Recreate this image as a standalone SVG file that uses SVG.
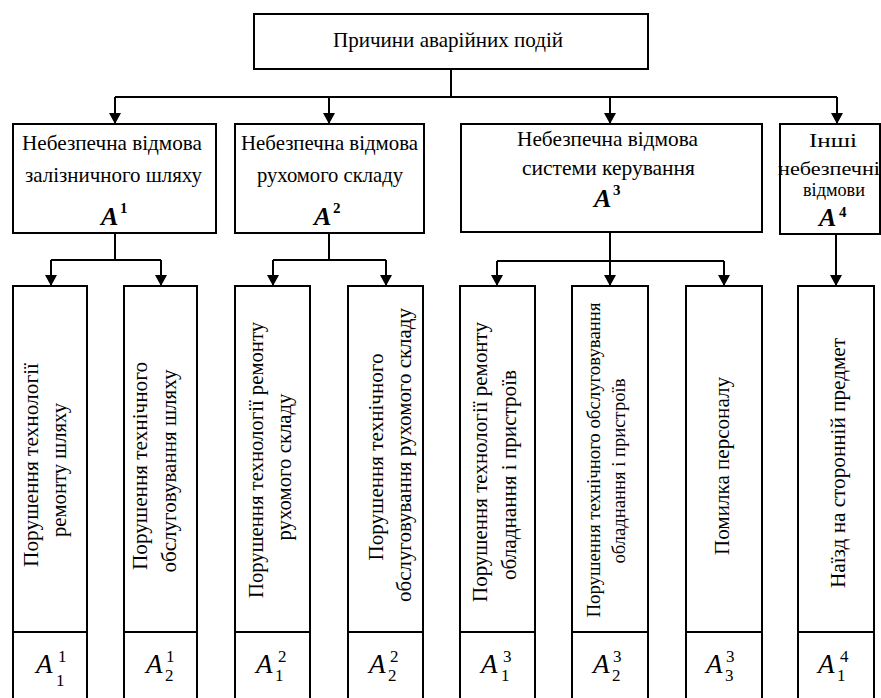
<svg xmlns="http://www.w3.org/2000/svg" width="881" height="698" viewBox="0 0 881 698">
<defs>
<style>
.box{fill:#fff;stroke:#000;stroke-width:2}
.c{fill:none;stroke:#000;stroke-width:2}
.t{font-size:21px}
.s{font-size:18.5px}
.k{font-size:18px}
.m{font-style:italic;font-weight:bold;font-size:26px}
.mi{font-style:italic;font-size:27px}
.d{font-size:17px}
.db{font-weight:bold;font-size:15px}
</style>
<marker id="ar" markerUnits="userSpaceOnUse" markerWidth="12" markerHeight="12" refX="11" refY="6" orient="auto">
<path d="M0,0 L11,6 L0,12 Z" fill="#000"/>
</marker>
</defs>

<g id="connectors">
<path class="c" d="M451,69 V97 M115,97 H837"/>
<path class="c" d="M115,97 V124" marker-end="url(#ar)"/>
<path class="c" d="M329,97 V124" marker-end="url(#ar)"/>
<path class="c" d="M610,97 V124" marker-end="url(#ar)"/>
<path class="c" d="M837,97 V124" marker-end="url(#ar)"/>
<path class="c" d="M115,233 V260 M51,260 H161"/>
<path class="c" d="M51,260 V286" marker-end="url(#ar)"/>
<path class="c" d="M161,260 V286" marker-end="url(#ar)"/>
<path class="c" d="M329,233 V260 M273,260 H386"/>
<path class="c" d="M273,260 V286" marker-end="url(#ar)"/>
<path class="c" d="M386,260 V286" marker-end="url(#ar)"/>
<path class="c" d="M497,261 H724"/>
<path class="c" d="M610,232 V286" marker-end="url(#ar)"/>
<path class="c" d="M497,261 V286" marker-end="url(#ar)"/>
<path class="c" d="M724,261 V286" marker-end="url(#ar)"/>
<path class="c" d="M836,234 V286" marker-end="url(#ar)"/>
</g>

<g font-family="Liberation Serif, DejaVu Serif, serif" fill="#000">
<g id="root">
<rect class="box" x="254" y="14" width="394" height="55"/>
<text class="t" x="448" y="47" text-anchor="middle" textLength="230" lengthAdjust="spacingAndGlyphs">Причини аварійних подій</text>
</g>

<g id="A1">
<rect class="box" x="13" y="124" width="203" height="109"/>
<text class="t" x="112" y="150" text-anchor="middle" textLength="180" lengthAdjust="spacingAndGlyphs">Небезпечна відмова</text>
<text class="t" x="113.5" y="182" text-anchor="middle" textLength="177" lengthAdjust="spacingAndGlyphs">залізничного шляху</text>
<text class="m" x="101" y="225">A</text><text class="db" x="120" y="213">1</text>
</g>

<g id="A2">
<rect class="box" x="235" y="124" width="189" height="109"/>
<text class="t" x="329.5" y="150" text-anchor="middle" textLength="177" lengthAdjust="spacingAndGlyphs">Небезпечна відмова</text>
<text class="t" x="330" y="182" text-anchor="middle" textLength="146" lengthAdjust="spacingAndGlyphs">рухомого складу</text>
<text class="m" x="314" y="225">A</text><text class="db" x="333" y="213">2</text>
</g>

<g id="A3">
<rect class="box" x="461" y="124" width="301" height="108"/>
<text class="t" x="607.5" y="146" text-anchor="middle" textLength="181" lengthAdjust="spacingAndGlyphs">Небезпечна відмова</text>
<text class="t" x="608.5" y="175" text-anchor="middle" textLength="173" lengthAdjust="spacingAndGlyphs">системи керування</text>
<text class="m" x="594" y="207">A</text><text class="db" x="613" y="195">3</text>
</g>

<g id="A4">
<rect class="box" x="780" y="124" width="100" height="110"/>
<text class="k" x="833" y="147" text-anchor="middle" textLength="48" lengthAdjust="spacingAndGlyphs">Інші</text>
<text class="k" x="778" y="175" textLength="102" lengthAdjust="spacingAndGlyphs">небезпечні</text>
<text class="k" x="834" y="196" text-anchor="middle" textLength="62" lengthAdjust="spacingAndGlyphs">відмови</text>
<text class="m" x="819" y="226">A</text><text class="db" x="839" y="217">4</text>
</g>

<g id="A1_1">
<rect class="box" x="13" y="286" width="74" height="440"/>
<path class="c" d="M13,632 H87"/>
<text class="t" transform="translate(38,465) rotate(-90)" text-anchor="middle" textLength="204" lengthAdjust="spacingAndGlyphs">Порушення технології</text>
<text class="t" transform="translate(66,470) rotate(-90)" text-anchor="middle" textLength="134" lengthAdjust="spacingAndGlyphs">ремонту шляху</text>
<text class="mi" x="36" y="673">A</text><text class="d" x="58" y="662">1</text><text class="d" x="56" y="686" font-size="13">1</text>
</g>

<g id="A1_2">
<rect class="box" x="124" y="286" width="73" height="440"/>
<path class="c" d="M124,632 H197"/>
<text class="t" transform="translate(147,466) rotate(-90)" text-anchor="middle" textLength="208" lengthAdjust="spacingAndGlyphs">Порушення технічного</text>
<text class="t" transform="translate(176,471) rotate(-90)" text-anchor="middle" textLength="203" lengthAdjust="spacingAndGlyphs">обслуговування шляху</text>
<text class="mi" x="146" y="673">A</text><text class="d" x="166" y="662">1</text><text class="d" x="165" y="681">2</text>
</g>

<g id="A2_1">
<rect class="box" x="235" y="286" width="75" height="440"/>
<path class="c" d="M235,632 H310"/>
<text class="t" transform="translate(263,460) rotate(-90)" text-anchor="middle" textLength="276" lengthAdjust="spacingAndGlyphs">Порушення технології ремонту</text>
<text class="t" transform="translate(291,467) rotate(-90)" text-anchor="middle" textLength="147" lengthAdjust="spacingAndGlyphs">рухомого складу</text>
<text class="mi" x="256" y="673">A</text><text class="d" x="278" y="662">2</text><text class="d" x="275" y="681">1</text>
</g>

<g id="A2_2">
<rect class="box" x="348" y="286" width="75" height="440"/>
<path class="c" d="M348,632 H423"/>
<text class="t" transform="translate(383,457) rotate(-90)" text-anchor="middle" textLength="207" lengthAdjust="spacingAndGlyphs">Порушення технічного</text>
<text class="t" transform="translate(411,455) rotate(-90)" text-anchor="middle" textLength="294" lengthAdjust="spacingAndGlyphs">обслуговування рухомого складу</text>
<text class="mi" x="369" y="673">A</text><text class="d" x="390" y="662">2</text><text class="d" x="388" y="681">2</text>
</g>

<g id="A3_1">
<rect class="box" x="460" y="286" width="75" height="440"/>
<path class="c" d="M460,632 H535"/>
<text class="t" transform="translate(487,462) rotate(-90)" text-anchor="middle" textLength="280" lengthAdjust="spacingAndGlyphs">Порушення технології ремонту</text>
<text class="t" transform="translate(516,475) rotate(-90)" text-anchor="middle" textLength="210" lengthAdjust="spacingAndGlyphs">обладнання і пристроїв</text>
<text class="mi" x="481" y="673">A</text><text class="d" x="503" y="662">3</text><text class="d" x="501" y="681">1</text>
</g>

<g id="A3_2">
<rect class="box" x="572" y="286" width="76" height="440"/>
<path class="c" d="M572,632 H648"/>
<text class="s" transform="translate(600,460) rotate(-90)" text-anchor="middle" textLength="315" lengthAdjust="spacingAndGlyphs">Порушення технічного обслуговування</text>
<text class="s" transform="translate(625,471) rotate(-90)" text-anchor="middle" textLength="185" lengthAdjust="spacingAndGlyphs">обладнання і пристроїв</text>
<text class="mi" x="593" y="673">A</text><text class="d" x="613" y="662">3</text><text class="d" x="612" y="681">2</text>
</g>

<g id="A3_3">
<rect class="box" x="686" y="286" width="76" height="440"/>
<path class="c" d="M686,632 H762"/>
<text class="t" transform="translate(729,466) rotate(-90)" text-anchor="middle" textLength="178" lengthAdjust="spacingAndGlyphs">Помилка персоналу</text>
<text class="mi" x="706" y="673">A</text><text class="d" x="726" y="662">3</text><text class="d" x="725" y="681">3</text>
</g>

<g id="A4_1">
<rect class="box" x="798" y="286" width="76" height="440"/>
<path class="c" d="M798,632 H874"/>
<text class="t" transform="translate(845,463) rotate(-90)" text-anchor="middle" textLength="250" lengthAdjust="spacingAndGlyphs">Наїзд на сторонній предмет</text>
<text class="mi" x="818" y="673">A</text><text class="d" x="840" y="662">4</text><text class="d" x="837" y="681">1</text>
</g>
</g>
</svg>
